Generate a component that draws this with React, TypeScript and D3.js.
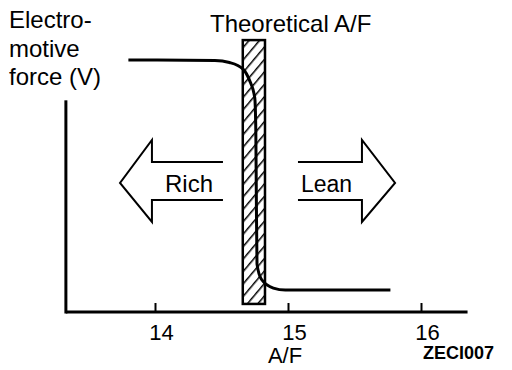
import React, { useEffect, useRef } from 'react';
import * as d3 from 'd3';

// A/F ratio vs electromotive force
const afRatio = [13.8, 14.45, 14.56, 14.66, 14.71, 14.75, 14.758, 14.762, 14.767, 14.8, 14.89, 14.98, 15.77];
const emf = [1.0, 0.998, 0.99, 0.965, 0.92, 0.85, 0.72, 0.45, 0.19, 0.13, 0.095, 0.087, 0.087];
const xTicks = [14, 15, 16];
const theoreticalBand = [14.66, 14.827];
const yLabel = ['Electro-', 'motive', 'force (V)'];

const WIDTH = 512;
const HEIGHT = 370;
const FONT = '"Liberation Sans", Arial, Helvetica, sans-serif';

function App() {
  const svgRef = useRef<SVGSVGElement | null>(null);

  useEffect(() => {
    const svg = d3.select(svgRef.current);
    svg.selectAll('*').remove();

    var x = d3.scaleLinear().domain([14, 16]).range([155, 421]);
    var y = d3.scaleLinear().domain([0, 1]).range([312, 60]);

    // hatch pattern for the theoretical A/F band
    var defs = svg.append('defs');
    defs.append('pattern')
      .attr('id', 'hatch')
      .attr('patternUnits', 'userSpaceOnUse')
      .attr('width', 8)
      .attr('height', 8)
      .attr('patternTransform', 'rotate(40)')
      .append('line')
      .attr('x1', 0).attr('y1', -1)
      .attr('x2', 0).attr('y2', 9)
      .attr('stroke', '#000')
      .attr('stroke-width', 3);

    svg.append('rect')
      .attr('x', x(theoreticalBand[0]))
      .attr('y', y(1.079))
      .attr('width', x(theoreticalBand[1]) - x(theoreticalBand[0]))
      .attr('height', y(0.032) - y(1.079))
      .attr('fill', 'url(#hatch)')
      .attr('stroke', '#000')
      .attr('stroke-width', 2.5);

    // axes
    svg.append('line')
      .attr('x1', x(13.33)).attr('x2', x(16.35))
      .attr('y1', y(0)).attr('y2', y(0))
      .attr('stroke', '#000').attr('stroke-width', 3);
    svg.append('line')
      .attr('x1', x(13.33)).attr('x2', x(13.33))
      .attr('y1', y(0) + 1.5).attr('y2', y(0.84))
      .attr('stroke', '#000').attr('stroke-width', 3);

    var xAxis = d3.axisBottom(x)
      .tickValues(xTicks)
      .tickFormat(d3.format('d'))
      .tickSizeInner(-9)
      .tickSizeOuter(0)
      .tickPadding(12);
    var gx = svg.append('g')
      .attr('transform', 'translate(0,' + y(0) + ')')
      .call(xAxis);
    gx.select('.domain').remove();
    gx.selectAll('.tick line').attr('stroke-width', 2);
    gx.selectAll('.tick text')
      .attr('font-family', FONT)
      .attr('font-size', 22)
      .attr('dx', 6)
      .attr('fill', '#000');

    // the curve
    var line = d3.line<number>()
      .x((d, i) => x(afRatio[i]))
      .y((d) => y(d))
      .curve(d3.curveMonotoneX);
    svg.append('path')
      .datum(emf)
      .attr('d', line)
      .attr('fill', 'none')
      .attr('stroke', '#000')
      .attr('stroke-width', 3);

    // Rich / Lean arrows
    var arrow = d3.line<[number, number]>();
    var leftArrow: [number, number][] = [
      [x(14.511), 162], [x(13.977), 162], [x(13.977), 140], [x(13.737), 183],
      [x(13.977), 222], [x(13.977), 200], [x(14.511), 200],
    ];
    var rightArrow: [number, number][] = [
      [x(15.075), 162], [x(15.556), 162], [x(15.556), 140], [x(15.805), 183],
      [x(15.556), 222], [x(15.556), 200], [x(15.075), 200],
    ];
    [leftArrow, rightArrow].forEach((pts) => {
      svg.append('path')
        .attr('d', arrow(pts))
        .attr('fill', 'none')
        .attr('stroke', '#000')
        .attr('stroke-width', 2);
    });

    var txt = (t: string, tx: number, ty: number, size: number, anchor: string, weight?: string) =>
      svg.append('text')
        .attr('x', tx).attr('y', ty)
        .attr('font-family', FONT)
        .attr('font-size', size)
        .attr('font-weight', weight || 'normal')
        .attr('text-anchor', anchor)
        .attr('fill', '#000')
        .text(t);

    txt('Rich', 165, 192, 24, 'start');
    txt('Lean', 301, 192, 23, 'start');
    txt('Theoretical A/F', 210, 32, 24, 'start');
    yLabel.forEach((l, i) => txt(l, 9, 28 + i * 28.5, 24, 'start'));
    txt('A/F', 285, 363, 22, 'middle');
    txt('ZECI007', 423, 359, 18, 'start', 'bold');
  }, []);

  return (
    <svg
      ref={svgRef}
      width={WIDTH}
      height={HEIGHT}
      style={{ position: 'absolute', left: 0, top: 0, background: '#fff' }}
    />
  );
}

export default App;
